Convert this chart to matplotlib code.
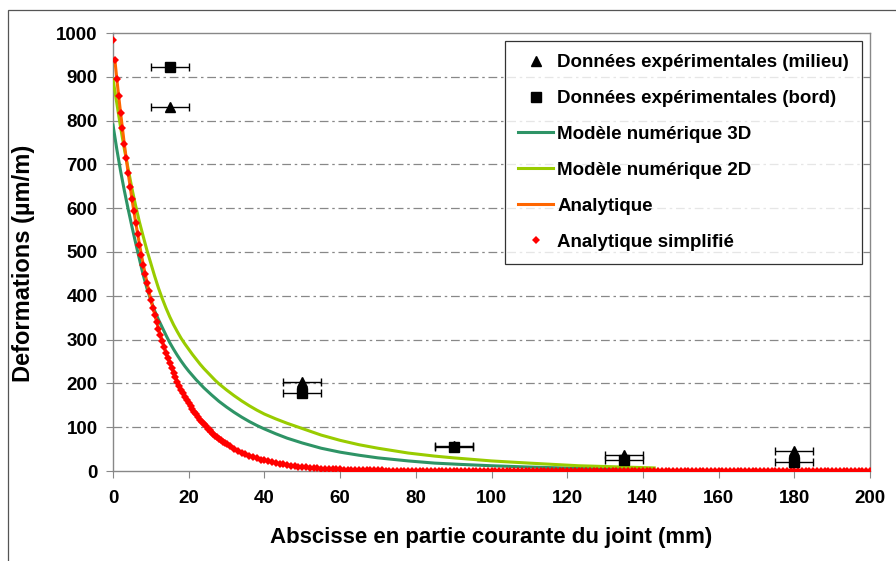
import numpy as np
import matplotlib
matplotlib.use("Agg")
import matplotlib.pyplot as plt
from matplotlib.patches import Rectangle
from matplotlib.lines import Line2D

plt.rcParams['font.family'] = ['Liberation Sans', 'DejaVu Sans']
plt.rcParams['font.weight'] = 'bold'

# donnees experimentales (x en mm, deformation en um/m)
exp_x = [15, 50, 90, 135, 180]
exp_err = [5, 5, 5, 5, 5]
milieu_y = [832, 204, 58, 37, 46]
bord_y = [922, 177, 55, 24, 21]

# modele numerique 3D
m3d_x = [0, 1, 2, 3, 4, 5, 6, 7, 8, 9, 10, 11, 12, 13, 14, 15, 16, 17, 18, 19, 20,
         22, 24, 26, 28, 30, 32, 34, 36, 38, 40, 43, 46, 50, 55, 60, 65, 70, 78, 85,
         92, 100, 110, 123, 135, 142]
m3d_y = [790, 735, 685, 640, 598, 558, 520, 483, 447, 416, 390, 366, 346, 328, 310, 293, 278, 264, 251, 239, 228,
         208, 190, 174, 159, 146, 134, 123, 113, 104, 96, 85, 75, 64, 52, 43, 36, 30, 23, 18,
         15, 12, 9, 6, 4, 3]

# modele numerique 2D
m2d_x = [0, 1, 2, 3, 4, 5, 6, 7, 8, 9, 10, 11, 12, 13, 14, 15, 16, 17, 18, 19, 20,
         21, 22, 23, 24, 25, 26, 27, 28, 29, 30, 32, 34, 36, 38, 40, 43, 46, 50, 55,
         60, 65, 70, 78, 85, 90, 100, 110, 123, 135, 143]
m2d_y = [895, 840, 785, 735, 690, 645, 605, 568, 535, 503, 474, 445, 418, 394, 372, 352, 334, 318, 303, 290, 278,
         266, 255, 244, 234, 225, 216, 207, 199, 192, 185, 172, 160, 149, 139, 130, 119, 109, 97, 82,
         70, 60, 52, 41, 34, 30, 23, 18, 12, 9, 7]

# analytique
ana_x = [0.5, 1, 1.5, 2, 3, 4, 5, 6, 7, 8, 9, 10, 12, 14, 16, 18, 20, 22, 24, 26,
         28, 30, 33, 36, 40, 45, 50, 55, 60, 70, 80, 100, 150, 200]
ana_y = [938, 896, 856, 818, 746, 681, 621, 567, 517, 471, 429, 391, 325, 270, 224, 186, 155, 129, 107, 89,
         74, 61, 46, 35, 24, 15, 9, 5.5, 3.5, 1.4, 0.5, 0, 0, 0]

# analytique simplifie (points tous les 0.5 mm jusqu'a 30, puis tous les 1 mm)
simp_x = list(np.arange(0, 30.5, 0.5)) + list(range(31, 201))
simp_y = [984, 938, 896, 856, 818, 782, 746, 714, 681, 649, 621, 594,
          567, 541, 517, 493, 471, 450, 429, 410, 391, 373, 356, 340,
          325, 310, 296, 283, 270, 257, 246, 235, 224, 214, 204, 195,
          186, 178, 170, 162, 155, 148, 141, 135, 129, 123, 117, 112,
          107, 102, 97, 93, 89, 85, 81, 77, 74, 70, 67, 64, 61,
          56, 51, 46, 42, 38, 35, 32, 29, 26, 24,
          22, 20, 18, 16, 15, 14, 12, 11, 10, 9,
          8, 7.5, 7, 6, 5.5, 5, 4.6, 4.2, 3.8, 3.5,
          3.2, 2.9, 2.6, 2.4, 2.2, 2.0, 1.8, 1.6, 1.5, 1.4,
          1.2, 1.1, 1.0, 0.9, 0.8, 0.8, 0.7, 0.6, 0.6, 0.5,
          0, 0, 0, 0, 0, 0, 0, 0, 0, 0, 0, 0, 0, 0, 0, 0, 0, 0, 0, 0,
          0, 0, 0, 0, 0, 0, 0, 0, 0, 0, 0, 0, 0, 0, 0, 0, 0, 0, 0, 0,
          0, 0, 0, 0, 0, 0, 0, 0, 0, 0, 0, 0, 0, 0, 0, 0, 0, 0, 0, 0,
          0, 0, 0, 0, 0, 0, 0, 0, 0, 0, 0, 0, 0, 0, 0, 0, 0, 0, 0, 0,
          0, 0, 0, 0, 0, 0, 0, 0, 0, 0, 0, 0, 0, 0, 0, 0, 0, 0, 0, 0,
          0, 0, 0, 0, 0, 0, 0, 0, 0, 0, 0, 0, 0, 0, 0, 0, 0, 0, 0, 0]

fig = plt.figure(figsize=(8.96, 5.61), dpi=100)
ax = fig.add_axes([113/896, 1-471/561, (870-113)/896, (471-33)/561])

# cadre exterieur
fig.patches.append(Rectangle((8/896, -0.05), 1.1, 1-10/561+0.05, transform=fig.transFigure,
                             fill=False, edgecolor='#555555', lw=0.9))

ax.plot(m3d_x, m3d_y, color='#2e9466', lw=2.2, zorder=3)
ax.plot(m2d_x, m2d_y, color='#99cc00', lw=2.2, zorder=3)
ax.plot(ana_x, ana_y, color='#ff6600', lw=2.2, zorder=4)
ax.plot(simp_x, simp_y, 'D', color='#ff0000', ms=4.3, mew=0, zorder=5)

ax.errorbar(exp_x, milieu_y, xerr=exp_err, fmt='^', color='black', ms=7.5, elinewidth=1,
            capsize=3, capthick=1, zorder=6)
ax.errorbar(exp_x, bord_y, xerr=exp_err, fmt='s', color='black', ms=7, elinewidth=1,
            capsize=3, capthick=1, zorder=6)

ax.set_xlim(0, 200)
ax.set_ylim(0, 1000)
ax.set_xticks(range(0, 201, 20))
ax.set_yticks(range(0, 1001, 100))
ax.tick_params(labelsize=13.5, colors='#888888', direction='out', length=5, pad=6, labelcolor='black')
for lab in ax.get_xticklabels() + ax.get_yticklabels():
    lab.set_fontweight('bold')
for sp in ax.spines.values():
    sp.set_color('#888888')
    sp.set_linewidth(1)
ax.tick_params(axis='x', pad=9)

for v in range(100, 1000, 100):
    ax.axhline(v, color='#888888', lw=0.9, linestyle=(0, (7, 3, 2, 3)), zorder=1)

ax.set_xlabel('Abscisse en partie courante du joint (mm)', fontsize=16, fontweight='bold', labelpad=14)
ax.set_ylabel('Deformations (µm/m)', fontsize=17, fontweight='bold')
ax.yaxis.set_label_coords((35-113)/757, (471-263)/438)

handles = [
    Line2D([], [], ls='none', marker='^', color='black', ms=7),
    Line2D([], [], ls='none', marker='s', color='black', ms=6.5),
    Line2D([], [], color='#2e9466', lw=2.2),
    Line2D([], [], color='#99cc00', lw=2.2),
    Line2D([], [], color='#ff6600', lw=2.2),
    Line2D([], [], ls='none', marker='D', color='#ff0000', ms=4.3, mew=0),
]
labels = ['Données expérimentales (milieu)', 'Données expérimentales (bord)',
          'Modèle numérique 3D', 'Modèle numérique 2D', 'Analytique', 'Analytique simplifié']
leg = ax.legend(handles, labels, loc='upper right',
                bbox_to_anchor=((862-113)/757, (471-41)/438), prop={'weight': 'bold', 'size': 13.5},
                frameon=True, fancybox=False, edgecolor='black', borderpad=0.7, borderaxespad=0,
                labelspacing=1.0, handlelength=1.9, handletextpad=0.2)
leg.get_frame().set_linewidth(0.9)

fig.savefig('out.png', dpi=100)
